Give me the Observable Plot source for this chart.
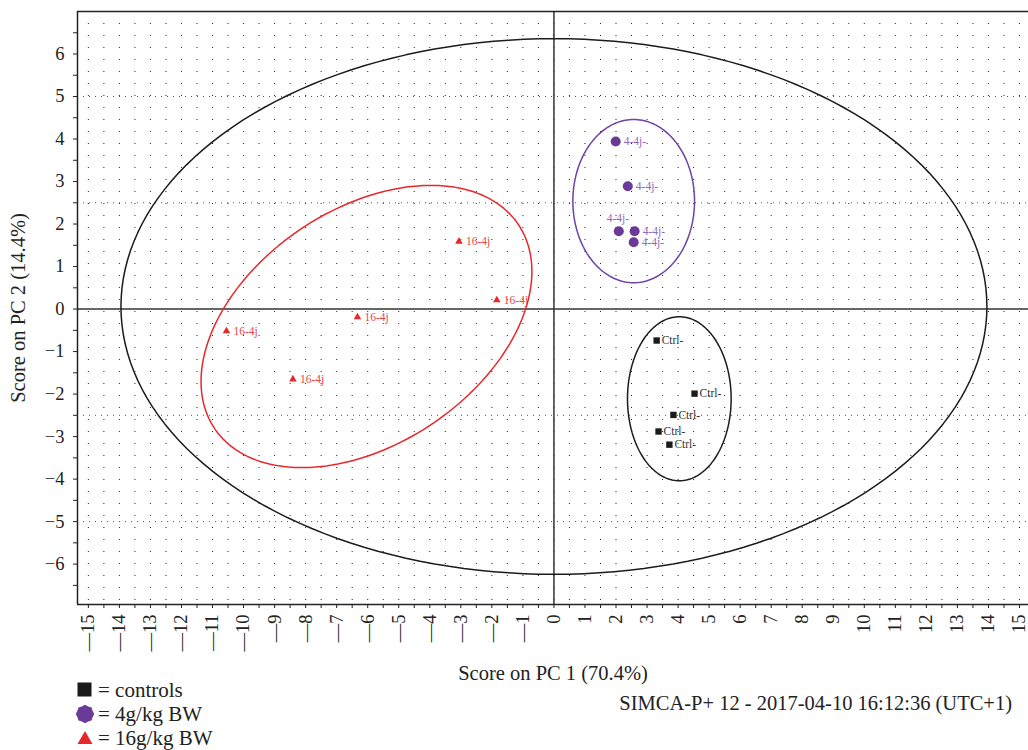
<!DOCTYPE html>
<html>
<head>
<meta charset="utf-8">
<script src="https://cdn.jsdelivr.net/npm/d3@7"></script>
<script src="https://cdn.jsdelivr.net/npm/@observablehq/plot@0.6"></script>
<style>
  html, body { margin: 0; padding: 0; background: #fff; overflow: hidden; }
  body { font-family: "Liberation Serif", "Times New Roman", serif; color: #222; }
  #chart { width: 1028px; }
  #foot { position: relative; width: 1028px; height: 68px; font-size: 21px; }
  .leg { position: absolute; left: 75px; display: flex; align-items: center; height: 24px; }
  .leg svg { width: 20px; height: 20px; margin-right: 3px; }
  #simca { position: absolute; right: 16px; top: 10px; font-size: 20.5px; white-space: nowrap; }
  svg g[aria-label="x-axis label"] text, svg g[aria-label="y-axis label"] text { font-size: 20.5px; }
</style>
</head>
<body>
<div id="chart"></div>
<div id="foot"></div>
<script>
// ---- data ----
const controlsX = [3.31, 4.53, 3.85, 3.37, 3.72];
const controlsY = [-0.74, -1.99, -2.49, -2.88, -3.19];
const lowDoseX = [1.99, 2.38, 2.09, 2.60, 2.57];
const lowDoseY = [3.94, 2.89, 1.83, 1.83, 1.57];
const highDoseX = [-3.06, -1.84, -6.33, -10.55, -8.41];
const highDoseY = [1.59, 0.21, -0.19, -0.52, -1.65];
const controlsLabel = "Ctrl-";
const lowDoseLabel = "4-4j-";
const highDoseLabel = "16-4j";

// ellipses: Hotelling T2 (all), controls, 4 g/kg, 16 g/kg
const ellipseCX = [0.00, 4.04, 2.57, -6.04];
const ellipseCY = [0.06, -2.11, 2.54, -0.41];
const ellipseRX = [13.95, 1.67, 1.96, 5.33];
const ellipseRY = [6.30, 1.93, 1.92, 3.32];
const ellipseRho = [0, 0, 0, 0.39];
const ellipseColors = ["#1c1c1c", "#1c1c1c", "#6f42a6", "#e8272c"];

const xDomain = [-15.35, 15.29];
const yDomain = [-6.95, 7.0];
const xTickValues = d3.range(-15, 15.01, 0.5);
const yTickValues = d3.range(-6.5, 6.51, 0.5);
const gridXValues = d3.range(-15, 15.01, 0.5);
const denseGridY = [-5, -2.5, 2.5, 5];

const xLabel = "Score on PC 1 (70.4%)";
const yLabel = "Score on PC 2 (14.4%)";
const legendLabels = ["= controls", "= 4g/kg BW", "= 16g/kg BW"];
const footnote = "SIMCA-P+ 12 - 2017-04-10 16:12:36 (UTC+1)";

// ---- build tables ----
const controls = controlsX.map((x, i) => ({x, y: controlsY[i]}));
const lowDose = lowDoseX.map((x, i) => ({x, y: lowDoseY[i], i}));
const highDose = highDoseX.map((x, i) => ({x, y: highDoseY[i]}));

function ellipsePoints(k) {
  const r = ellipseRho[k];
  return d3.range(0, 361, 2).map(a => {
    const t = a * Math.PI / 180;
    return {
      x: ellipseCX[k] + ellipseRX[k] * Math.cos(t),
      y: ellipseCY[k] + ellipseRY[k] * (r * Math.cos(t) + Math.sqrt(1 - r * r) * Math.sin(t))
    };
  });
}

const fmtX = d => Number.isInteger(d) ? (d < 0 ? "\u2014" + (-d) : String(d)) : "";
const fmtY = d => Number.isInteger(d) ? (d < 0 ? "\u2212" + (-d) : String(d)) : "";

const plot = Plot.plot({
  width: 1028,
  height: 682,
  marginLeft: 77,
  marginRight: 0,
  marginTop: 11,
  marginBottom: 78,
  style: {fontFamily: "'Liberation Serif', 'Times New Roman', serif", fontSize: "18.5px", color: "#222", background: "#fff", overflow: "visible"},
  x: {domain: xDomain, ticks: xTickValues, tickFormat: fmtX, tickRotate: -90, tickSize: 4, tickPadding: 6,
      label: xLabel, labelAnchor: "center", labelOffset: 75, labelArrow: "none"},
  y: {domain: yDomain, ticks: yTickValues, tickFormat: fmtY, tickSize: 4, tickPadding: 9,
      label: yLabel, labelAnchor: "center", labelOffset: 67, labelArrow: "none"},
  marks: [
    Plot.ruleX(gridXValues, {stroke: "#222", strokeWidth: 1, strokeDasharray: "1,11"}),
    Plot.ruleY(denseGridY, {stroke: "#555", strokeWidth: 1, strokeDasharray: "1,5"}),
    Plot.ruleX([0], {stroke: "#333", strokeWidth: 1.5}),
    Plot.ruleY([0], {stroke: "#333", strokeWidth: 1.5}),
    Plot.ruleX([xDomain[0]], {stroke: "#222", strokeWidth: 1.5}),
    Plot.ruleY([yDomain[0], yDomain[1]], {stroke: "#222", strokeWidth: 1.5}),
    ...ellipseCX.map((_, k) => Plot.line(ellipsePoints(k), {x: "x", y: "y", stroke: ellipseColors[k], strokeWidth: 1.5})),
    Plot.dot(controls, {x: "x", y: "y", symbol: "square", r: 3.6, fill: "#1a1a1a", stroke: "none"}),
    Plot.text(controls, {x: "x", y: "y", text: () => controlsLabel, dx: 5, textAnchor: "start", fontSize: 11.5, fill: "#333"}),
    Plot.dot(lowDose, {x: "x", y: "y", symbol: "circle", r: 5, fill: "#6b3a98", stroke: "none"}),
    Plot.text(lowDose.filter(d => d.i !== 2), {x: "x", y: "y", text: () => lowDoseLabel, dx: 8, textAnchor: "start", fontSize: 11.5, fill: "#9069bb"}),
    Plot.text(lowDose.filter(d => d.i === 2), {x: "x", y: "y", text: () => lowDoseLabel, dx: -1, dy: -13, textAnchor: "middle", fontSize: 11.5, fill: "#9069bb"}),
    Plot.dot(highDose, {x: "x", y: "y", symbol: "triangle", r: 2.8, fill: "#e8262b", stroke: "none"}),
    Plot.text(highDose, {x: "x", y: "y", text: () => highDoseLabel, dx: 7, textAnchor: "start", fontSize: 11.5, fill: "#e4474a"})
  ]
});
document.getElementById("chart").appendChild(plot);

// ---- legend and footnote below ----
const foot = document.getElementById("foot");
const symbols = [
  `<svg viewBox="0 0 20 20"><rect x="2.5" y="2.5" width="14" height="14" fill="#1a1a1a"/></svg>`,
  `<svg viewBox="0 0 20 20"><polygon fill="#6b3a98" points="${d3.range(16).map(j => { const a = j * Math.PI / 8; const rr = j % 2 ? 8.2 : 9.2; return (10 + rr * Math.cos(a)).toFixed(2) + "," + (10 + rr * Math.sin(a)).toFixed(2); }).join(" ")}"/></svg>`,
  `<svg viewBox="0 0 20 20"><polygon fill="#e8262b" points="10,3 17.5,16 2.5,16"/></svg>`
];
const tops = [-4, 20, 44];
legendLabels.forEach((lab, i) => {
  const div = document.createElement("div");
  div.className = "leg";
  div.style.top = tops[i] + "px";
  div.innerHTML = symbols[i] + `<span>${lab}</span>`;
  foot.appendChild(div);
});
const s = document.createElement("div");
s.id = "simca";
s.textContent = footnote;
foot.appendChild(s);
</script>
</body>
</html>
